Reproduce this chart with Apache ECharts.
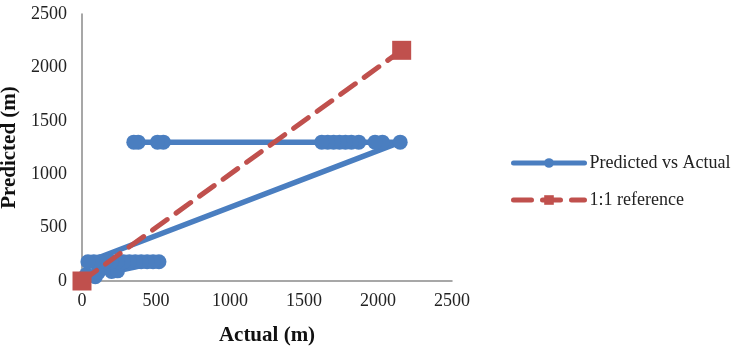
<!DOCTYPE html>
<html>
<head>
<meta charset="utf-8">
<script src="https://cdn.jsdelivr.net/npm/echarts@6/dist/echarts.min.js"></script>
<style>
html,body{margin:0;padding:0;background:#fff;}
#chart{width:731px;height:348px;}
</style>
</head>
<body>
<div id="chart"></div>
<script>
var axisTicks = [0, 500, 1000, 1500, 2000, 2500];
var seriesNames = ["Predicted vs Actual", "1:1 reference"];
var actual = [30, 90, 110, 200, 240, 520, 480, 440, 400, 360, 320, 280, 240, 200, 160, 120, 80, 40,
              2150, 2030, 1980, 1870, 1820, 1780, 1740, 1700, 1660, 1620, 550, 510, 380, 350];
var predicted = [60, 40, 80, 90, 95, 180, 180, 180, 180, 180, 180, 180, 180, 180, 180, 180, 180, 180,
                 1300, 1300, 1300, 1300, 1300, 1300, 1300, 1300, 1300, 1300, 1300, 1300, 1300, 1300];
var refActual = [0, 2160];
var refPredicted = [0, 2160];

function pairs(xs, ys){ return xs.map(function(x,i){ return [x, ys[i]]; }); }

var chart = echarts.init(document.getElementById('chart'));
var serif = 'Liberation Serif';
var plain = function(v){ return String(v); };
chart.setOption({
  animation: false,
  backgroundColor: '#fff',
  grid: {left: 82, right: 279, top: 14, bottom: 67, containLabel: false, outerBoundsMode: 'none'},
  legend: {
    orient: 'vertical',
    left: 511,
    top: 153,
    padding: 0,
    itemWidth: 71,
    itemHeight: 12,
    itemGap: 17,
    textStyle: {fontFamily: serif, fontSize: 18, color: '#222', lineHeight: 20},
    data: [
      {name: seriesNames[0], lineStyle: {width: 5}},
      {name: seriesNames[1], lineStyle: {width: 5}}
    ]
  },
  xAxis: {
    type: 'value', min: axisTicks[0], max: axisTicks[axisTicks.length-1], interval: 500,
    name: 'Actual (m)', nameLocation: 'middle', nameGap: 44,
    nameTextStyle: {fontFamily: serif, fontSize: 21, fontWeight: 'bold', color: '#111'},
    axisLine: {show: true, lineStyle: {color: '#8a8a8a', width: 1.5}},
    axisTick: {show: false},
    splitLine: {show: false},
    axisLabel: {fontFamily: serif, fontSize: 18, color: '#222', margin: 11, formatter: plain}
  },
  yAxis: {
    type: 'value', min: axisTicks[0], max: axisTicks[axisTicks.length-1], interval: 500,
    name: 'Predicted (m)', nameLocation: 'middle', nameGap: 51,
    nameTextStyle: {fontFamily: serif, fontSize: 21, fontWeight: 'bold', color: '#111'},
    axisLine: {show: true, lineStyle: {color: '#8a8a8a', width: 1.5}},
    axisTick: {show: false},
    splitLine: {show: false},
    axisLabel: {fontFamily: serif, fontSize: 18, color: '#222', margin: 15, formatter: plain}
  },
  series: [
    {
      name: seriesNames[0], type: 'line',
      data: pairs(actual, predicted),
      symbol: 'circle', symbolSize: 15,
      itemStyle: {color: '#4A7EC0'},
      lineStyle: {color: '#4A7EC0', width: 5.5, cap: 'round'},
      z: 2
    },
    {
      name: seriesNames[1], type: 'line',
      data: pairs(refActual, refPredicted),
      symbol: 'rect', symbolSize: 19,
      itemStyle: {color: '#C0504D'},
      lineStyle: {color: '#C0504D', width: 5, type: [18, 11], cap: 'round'},
      z: 3
    }
  ]
});
</script>
</body>
</html>
